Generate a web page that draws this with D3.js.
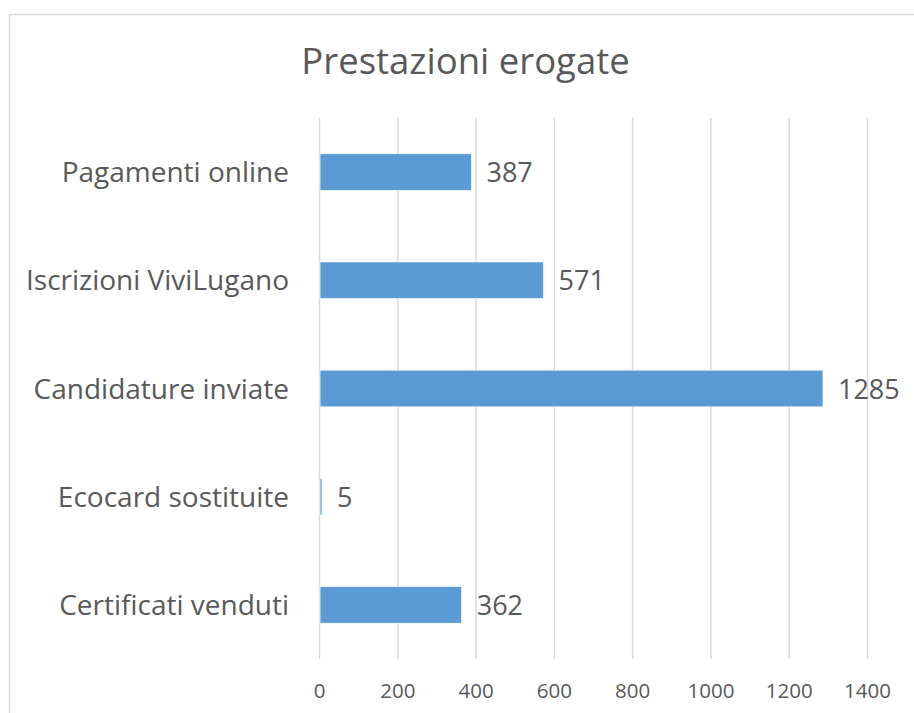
<!DOCTYPE html>
<html>
<head>
<meta charset="utf-8">
<script src="https://cdn.jsdelivr.net/npm/d3@7/dist/d3.min.js"></script>
<style>
  html, body { margin: 0; padding: 0; background: #ffffff; }
  svg { display: block; }
  text { font-family: "Open Sans", "Noto Sans", sans-serif; fill: #595959; }
</style>
</head>
<body>
<svg id="chart" width="914" height="713"></svg>
<script>
const categories = ["Pagamenti online", "Iscrizioni ViviLugano", "Candidature inviate", "Ecocard sostituite", "Certificati venduti"];
const values = [387, 571, 1285, 5, 362];
const xTicks = [0, 200, 400, 600, 800, 1000, 1200, 1400];
const title = "Prestazioni erogate";

const svg = d3.select("#chart");
const W = 914, H = 713;

// outer chart border
svg.append("rect")
  .attr("x", 9.5).attr("y", 14.5)
  .attr("width", W + 20).attr("height", H + 20)
  .attr("fill", "#ffffff")
  .attr("stroke", "#d9d9d9").attr("stroke-width", 1.5);

const plot = { left: 319, right: 867, top: 118, bottom: 659 };

const x = d3.scaleLinear().domain([0, 1400]).range([plot.left, plot.right]);
const y = d3.scaleBand().domain(categories).range([plot.top, plot.bottom]).paddingInner(0.66).paddingOuter(0.33);

// title
svg.append("text")
  .attr("x", 465.5).attr("y", 74)
  .attr("text-anchor", "middle")
  .attr("font-size", 36.5)
  .text(title);

// gridlines via axis
const gx = svg.append("g")
  .attr("transform", `translate(0,${plot.bottom})`)
  .call(d3.axisBottom(x).tickValues(xTicks).tickSize(-(plot.bottom - plot.top)).tickFormat(d3.format("d")));
gx.select(".domain").remove();
gx.selectAll(".tick line").attr("stroke", "#d9d9d9").attr("stroke-width", 1.5);
gx.selectAll(".tick text")
  .attr("y", 0).attr("dy", null)
  .attr("transform", "translate(0,39)")
  .attr("font-size", 20.5)
  .attr("fill", "#595959")
  .style("font-family", '"Open Sans", sans-serif');

// bars
svg.append("g").selectAll("rect")
  .data(categories)
  .join("rect")
  .attr("x", x(0) + 1)
  .attr("y", d => y(d))
  .attr("width", (d, i) => Math.max(1, x(values[i]) - x(0)))
  .attr("height", y.bandwidth())
  .attr("fill", "#5b9bd5")
  .attr("stroke", "#ffffff").attr("stroke-width", 0.75);

// value labels
svg.append("g").selectAll("text")
  .data(categories)
  .join("text")
  .attr("x", (d, i) => x(values[i]) + 16)
  .attr("y", (d) => y(d) + y.bandwidth() / 2 + 10)
  .attr("font-size", 27)
  .attr("fill", "#404040")
  .text((d, i) => values[i]);

// category labels
svg.append("g").selectAll("text")
  .data(categories)
  .join("text")
  .attr("x", 289)
  .attr("y", d => y(d) + y.bandwidth() / 2 + 10)
  .attr("text-anchor", "end")
  .attr("font-size", 28)
  .text(d => d);
</script>
</body>
</html>
